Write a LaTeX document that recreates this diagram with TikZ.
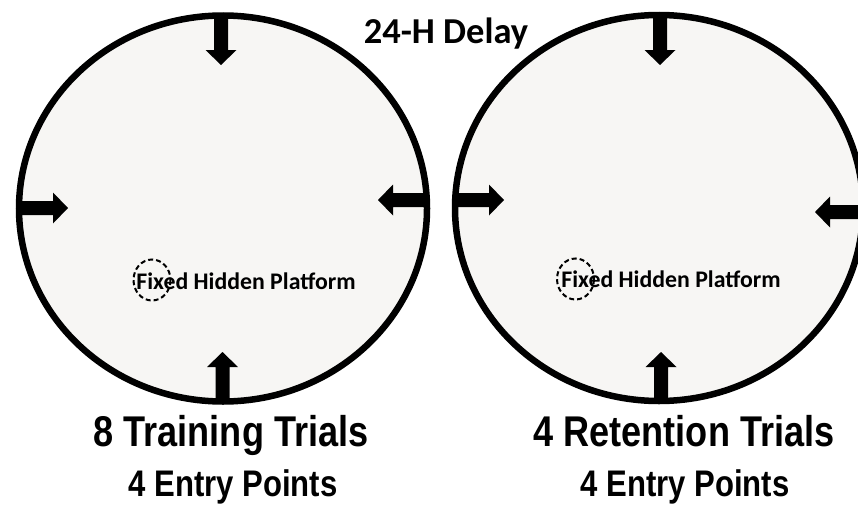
\documentclass[tikz,border=0pt]{standalone}
\usepackage{fontspec}
\newfontfamily\calib{Carlito}
\newfontfamily\narrowsans[FakeStretch=0.84]{Liberation Sans}
\definecolor{poolfill}{RGB}{247,246,244}
\begin{document}
\begin{tikzpicture}[x=1pt,y=-1pt,
  pool/.style={draw=black, line width=6.5pt, fill=poolfill},
  platform/.style={draw=black, line width=2pt, dash pattern=on 5pt off 3pt},
  platlabel/.style={anchor=base, inner sep=0pt, font=\calib\bfseries\fontsize{23.8}{28}\selectfont},
  titlelabel/.style={anchor=base, inner sep=0pt, font=\calib\bfseries\fontsize{36.5}{42}\selectfont},
  triallabel/.style={anchor=base, inner sep=0pt, font=\narrowsans\bfseries\fontsize{43}{48}\selectfont},
  entrylabel/.style={anchor=base, inner sep=0pt, font=\narrowsans\bfseries\fontsize{37}{42}\selectfont},
  entry/.pic={\fill[black] (0,-7) -- (34,-7) -- (34,-15.5) -- (49,0) -- (34,15.5) -- (34,7) -- (0,7) -- cycle;}
]
\useasboundingbox (0,0) rectangle (858,506);
\fill[white] (0,0) rectangle (858,506);

% training pool
\coordinate (poolA) at (223,208.5);
\draw[pool] (poolA) ellipse [x radius=204, y radius=193];
\pic[rotate=-90] at (221,16) {entry};
\pic[rotate=90] at (222.5,401) {entry};
\pic[rotate=0] at (19,208) {entry};
\pic[rotate=180] at (427,200) {entry};
\draw[platform] (152,280) ellipse [x radius=18.5, y radius=20.5];
\node[platlabel] (platA) at (246,289) {Fixed Hidden Platform};

% retention pool
\coordinate (poolB) at (659,208);
\draw[pool] (poolB) ellipse [x radius=204, y radius=193];
\pic[rotate=-90] at (660,16) {entry};
\pic[rotate=90] at (661,401) {entry};
\pic[rotate=0] at (455,200) {entry};
\pic[rotate=180] at (864,212) {entry};
\draw[platform] (575.5,279) ellipse [x radius=18.5, y radius=20.5];
\node[platlabel] (platB) at (671,287) {Fixed Hidden Platform};

% labels
\node[titlelabel] (delay) at (446,43) {24-H Delay};
\node[triallabel] (trainA) at (231,446) {8 Training Trials};
\node[entrylabel] (entryA) at (233,496) {4 Entry Points};
\node[triallabel] (trainB) at (684,446) {4 Retention Trials};
\node[entrylabel] (entryB) at (685,496) {4 Entry Points};
\end{tikzpicture}
\end{document}
